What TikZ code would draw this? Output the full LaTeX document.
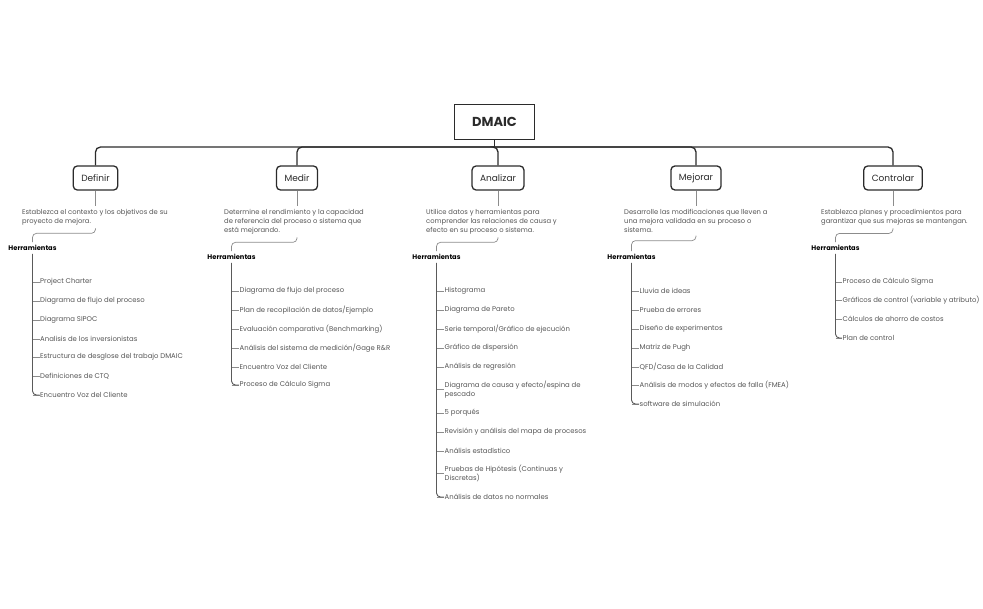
\documentclass[tikz,border=0pt]{standalone}
\usepackage{fontspec}
\setmainfont{Poppins}
\usepackage{xcolor}
\usepackage{tikz}
\usetikzlibrary{
  positioning,
  calc
}
\definecolor{DmInk}{HTML}{2B2B2B}
\definecolor{DmText}{HTML}{555555}
\definecolor{DmSoft}{HTML}{8C8C8C}
\definecolor{DmSpine}{HTML}{5A5A5A}

\tikzset{
  rootbox/.style={draw=DmInk,line width=1.4pt,minimum width=80pt,minimum height=35pt,
    font=\fontsize{13}{15}\selectfont\bfseries,text=DmInk},
  phasebox/.style={draw=DmInk,line width=1.3pt,rounded corners=4pt,minimum height=24pt,
    inner xsep=8pt,font=\fontsize{9}{10}\selectfont,text=DmInk},
  descr/.style={anchor=north west,inner xsep=0pt,inner ysep=3pt,align=left,
    font=\fontsize{6.8}{9}\selectfont,text=DmText},
  toolhead/.style={inner sep=3pt,font=\fontsize{6.7}{8}\selectfont\bfseries,text=black},
  toolitem/.style={anchor=west,inner xsep=0.5pt,inner ysep=1pt,align=left,
    font=\fontsize{6.9}{9}\selectfont,text=DmText},
  bar/.style={draw=DmInk,line width=1.3pt,rounded corners=5pt},
  twig/.style={draw=DmSoft,line width=0.7pt,rounded corners=4pt},
  trunk/.style={draw=DmSpine,line width=0.9pt,rounded corners=4pt}
}

\begin{document}
\begin{tikzpicture}[x=1pt,y=-1pt]
  \useasboundingbox (0,0) rectangle (983,609);

  % top level
  \node[rootbox] (dmaic) at (494.5,122) {DMAIC};
  \coordinate (hub) at (494.5,147);
  \draw[bar] (dmaic) -- (hub);

  \node[phasebox] (definir)   at (95.5,178) {Definir};
  \node[phasebox] (medir)     at (297,178)  {Medir};
  \node[phasebox] (analizar)  at (498,178)  {Analizar};
  \node[phasebox] (mejorar)   at (696,178)  {Mejorar};
  \node[phasebox] (controlar) at (893,178)  {Controlar};

  \foreach \p in {definir,medir,analizar,mejorar,controlar}
    \draw[bar] (hub) -| (\p);

  % descriptions
  \node[descr] (definir-txt) at (22,206)
    {Establezca el contexto y los objetivos de su\\proyecto de mejora.};
  \node[descr] (medir-txt) at (224,206)
    {Determine el rendimiento y la capacidad\\de referencia del proceso o sistema que\\está mejorando.};
  \node[descr] (analizar-txt) at (426,206)
    {Utilice datos y herramientas para\\comprender las relaciones de causa y\\efecto en su proceso o sistema.};
  \node[descr] (mejorar-txt) at (624,206)
    {Desarrolle las modificaciones que lleven a\\una mejora validada en su proceso o\\sistema.};
  \node[descr] (controlar-txt) at (821,206)
    {Establezca planes y procedimientos para\\garantizar que sus mejoras se mantengan.};

  % Herramientas
  \node[toolhead] (definir-tools)   at (32.5,248)  {Herramientas};
  \node[toolhead] (medir-tools)     at (231.5,257) {Herramientas};
  \node[toolhead] (analizar-tools)  at (436.5,257) {Herramientas};
  \node[toolhead] (mejorar-tools)   at (631.5,257) {Herramientas};
  \node[toolhead] (controlar-tools) at (835.5,248) {Herramientas};

  \foreach \p in {definir,medir,analizar,mejorar,controlar} {
    \draw[twig] (\p) -- (\p |- \p-txt.north);
    \draw[twig] (\p |- \p-txt.south) -- ++(0,5) -| (\p-tools.north);
  }

  % tool lists
  \foreach \y/\t [count=\i] in {282/Project Charter,301/Diagrama de flujo del proceso,
      320/Diagrama SIPOC,339/Analisis de los inversionistas,
      357/Estructura de desglose del trabajo DMAIC,376/Definiciones de CTQ,
      395/Encuentro Voz del Cliente} {
    \node[toolitem] (definir-\i) at (39.5,\y) {\t};
    \draw[twig] (definir-tools.south |- definir-\i.west) -- (definir-\i.west);
  }
  \draw[trunk] (definir-tools.south) |- (definir-7.west);

  \foreach \y/\t [count=\i] in {291/Diagrama de flujo del proceso,
      310/{Plan de recopilación de datos/Ejemplo},
      329/Evaluación comparativa (Benchmarking),
      348/{Análisis del sistema de medición/Gage R\&R},
      367/Encuentro Voz del Cliente,385/Proceso de Cálculo Sigma} {
    \node[toolitem] (medir-\i) at (239,\y) {\t};
    \draw[twig] (medir-tools.south |- medir-\i.west) -- (medir-\i.west);
  }
  \draw[trunk] (medir-tools.south) |- (medir-6.west);

  \foreach \y/\t [count=\i] in {291/Histograma,310/Diagrama de Pareto,
      329/{Serie temporal/Gráfico de ejecución},348/Gráfico de dispersión,
      367/Análisis de regresión,
      389.5/{Diagrama de causa y efecto/espina de\\pescado},
      413/5 porqués,432/Revisión y análisis del mapa de procesos,
      451/Análisis estadístico,
      473.8/{Pruebas de Hipótesis (Continuas y\\Discretas)},
      497/Análisis de datos no normales} {
    \node[toolitem] (analizar-\i) at (444,\y) {\t};
    \draw[twig] (analizar-tools.south |- analizar-\i.west) -- (analizar-\i.west);
  }
  \draw[trunk] (analizar-tools.south) |- (analizar-11.west);

  \foreach \y/\t [count=\i] in {291/Lluvia de ideas,310/Prueba de errores,
      329/Diseño de experimentos,348/Matriz de Pugh,
      367/{QFD/Casa de la Calidad},
      385/Análisis de modos y efectos de falla (FMEA),
      404/software de simulación} {
    \node[toolitem] (mejorar-\i) at (639,\y) {\t};
    \draw[twig] (mejorar-tools.south |- mejorar-\i.west) -- (mejorar-\i.west);
  }
  \draw[trunk] (mejorar-tools.south) |- (mejorar-7.west);

  \foreach \y/\t [count=\i] in {282/Proceso de Cálculo Sigma,
      300/Gráficos de control (variable y atributo),
      319/Cálculos de ahorro de costos,338/Plan de control} {
    \node[toolitem] (controlar-\i) at (842,\y) {\t};
    \draw[twig] (controlar-tools.south |- controlar-\i.west) -- (controlar-\i.west);
  }
  \draw[trunk] (controlar-tools.south) |- (controlar-4.west);
\end{tikzpicture}
\end{document}
